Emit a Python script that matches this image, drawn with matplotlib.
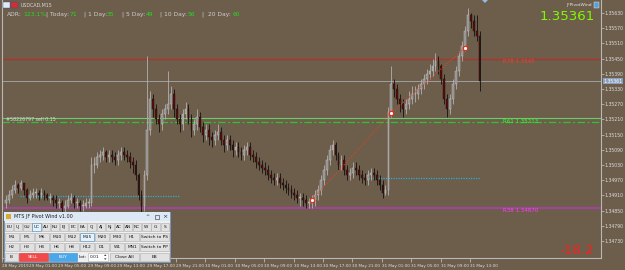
import matplotlib.pyplot as plt
from matplotlib.patches import Rectangle, Polygon
import matplotlib.transforms as mtransforms
import numpy as np

BG = '#6d5d4b'

# USDCAD M15 bars, values in pips above 1.3400
first_open = 88
closes = [
    89, 91, 93, 95, 94, 96, 93, 90, 91, 92,
    92, 91, 92, 91, 90, 90, 89, 88, 88, 86,
    87, 89, 90, 88, 88, 87, 87, 88, 88, 103,
    103, 106, 107, 108, 106, 107, 106, 105, 107, 108,
    107, 106, 104, 103, 99, 91, 87, 99, 117, 129,
    125, 121, 119, 123, 125, 127, 131, 125, 121, 119,
    123, 125, 121, 117, 119, 122, 118, 115, 117, 114,
    113, 115, 116, 113, 111, 113, 111, 109, 110, 108,
    107, 109, 110, 107, 106, 104, 103, 102, 101, 99,
    98, 97, 98, 96, 95, 94, 93, 92, 91, 90,
    90, 89, 88, 88, 89, 91, 93, 97, 101, 105,
    109, 111, 107, 103, 105, 101, 99, 100, 102, 101,
    99, 98, 97, 99, 100, 99, 97, 95, 92, 93,
    124, 135, 133, 129, 127, 125, 127, 129, 131, 131,
    133, 135, 137, 139, 140, 142, 144, 142, 137, 129,
    125, 129, 135, 140, 146, 150, 156, 162, 160, 156,
    154, 136,
]
highs = [
    91, 93, 95, 97, 96, 97, 96, 94, 93, 94,
    94, 93, 94, 93, 92, 92, 91, 91, 90, 89,
    89, 91, 92, 91, 90, 89, 89, 90, 90, 106,
    106, 108, 109, 110, 109, 109, 109, 108, 109, 110,
    110, 109, 108, 106, 105, 100, 93, 101, 146, 132,
    131, 127, 123, 125, 127, 140, 134, 133, 127, 123,
    125, 128, 127, 123, 121, 125, 124, 120, 119, 119,
    116, 117, 119, 118, 115, 115, 115, 113, 112, 112,
    110, 111, 112, 112, 109, 108, 106, 105, 104, 103,
    101, 100, 100, 100, 98, 97, 96, 95, 94, 93,
    92, 92, 91, 90, 91, 93, 95, 99, 103, 107,
    111, 113, 112, 108, 107, 107, 103, 102, 104, 104,
    103, 101, 100, 101, 102, 102, 101, 99, 97, 95,
    126, 142, 137, 135, 131, 129, 129, 132, 134, 134,
    135, 137, 139, 141, 143, 145, 147, 146, 143, 139,
    131, 131, 137, 142, 148, 152, 158, 165, 163, 162,
    162, 156,
]
lows = [
    86, 88, 90, 92, 92, 93, 91, 88, 89, 90,
    90, 89, 90, 89, 89, 88, 87, 86, 86, 84,
    84, 86, 88, 86, 86, 85, 85, 86, 86, 87,
    100, 102, 104, 105, 104, 104, 104, 103, 103, 105,
    105, 104, 102, 100, 97, 89, 84, 85, 97, 115,
    122, 119, 116, 117, 121, 123, 125, 122, 119, 116,
    117, 121, 119, 114, 115, 117, 116, 112, 113, 111,
    110, 111, 113, 111, 108, 109, 109, 106, 107, 106,
    105, 105, 107, 105, 104, 102, 101, 100, 99, 97,
    96, 95, 95, 94, 93, 92, 91, 90, 89, 88,
    87, 87, 86, 86, 86, 87, 89, 91, 95, 99,
    103, 107, 105, 101, 101, 99, 97, 97, 98, 99,
    97, 96, 95, 95, 97, 97, 95, 93, 90, 91,
    91, 122, 130, 127, 124, 122, 123, 125, 127, 128,
    129, 131, 133, 135, 137, 138, 140, 139, 135, 127,
    122, 123, 127, 133, 138, 144, 148, 154, 157, 154,
    152, 132,
]
base = 1.3400
pip = 0.0001

time_labels = ['28 May 2019', '29 May 01:00', '29 May 05:00', '29 May 09:00', '29 May 13:00',
               '29 May 17:00', '29 May 21:00', '30 May 01:00', '30 May 05:00', '30 May 09:00',
               '30 May 13:00', '30 May 17:00', '30 May 21:00', '31 May 01:00', '31 May 05:00',
               '31 May 09:00', '31 May 13:00']
label_bars = [-1.3] + [7.76 + 10 * k for k in range(16)]

price_ticks = [1.34730, 1.34790, 1.34850, 1.34910, 1.34970, 1.35030, 1.35090, 1.35150,
               1.35210, 1.35270, 1.35330, 1.35390, 1.35450, 1.35510, 1.35570, 1.35630]

bid = 1.35361
r78, r61, r38 = 1.3545, 1.35200, 1.34860
order_price = 1.35216
cyan_levels = [(1.34908, 4.7, 59.2), (1.34979, 123, 161)]
zz_bars = [104, 131, 156]
zz_prices = [1.34892, 1.35235, 1.35492]

adr_items = [('ADR:', 7, '123.1%', 23), ('| Today:', 46, '71', 70), ('| 1 Day:', 84, '35', 107),
             ('| 5 Day:', 122, '49', 146), ('| 10 Day:', 160, '56', 187), ('|  20 Day:', 202, '60', 233)]

# ---------------------------------------------------------------
fig = plt.figure(figsize=(6.25, 2.7), dpi=100, facecolor=BG)
ax = fig.add_axes([2 / 625, 12 / 270, 599 / 625, 258 / 270])
ax.set_facecolor(BG)

c = base + np.array(closes) * pip
o = np.r_[base + first_open * pip, c[:-1]]
h = base + np.array(highs) * pip
l = base + np.array(lows) * pip
idx = np.arange(len(c))
up = c >= o

ax.vlines(idx[up], l[up], h[up], color='#b0b0b0', lw=0.6, zorder=3)
ax.vlines(idx[~up], l[~up], h[~up], color='#111111', lw=0.6, zorder=3)
ax.bar(idx[up], np.maximum((c - o)[up], 0.2 * pip), bottom=o[up], width=0.6,
       color='#8a8a8a', edgecolor='#cfcfcf', lw=0.3, zorder=4)
ax.bar(idx[~up], (o - c)[~up], bottom=c[~up], width=0.6,
       color='#5e0c0c', edgecolor='#111111', lw=0.3, zorder=4)

# levels
ax.axhline(r78, color='#b3312c', lw=0.9, zorder=2)
ax.axhline(bid, color='#a0a0a0', lw=0.7, zorder=2)
ax.axhline(order_price, color='#66d066', lw=0.8, zorder=2)
ax.axhline(r61, color='#2fc42f', lw=0.9, ls=(0, (6, 2, 1.5, 2)), zorder=2)
ax.axhline(r38, color='#b43cb4', lw=1.1, zorder=2)
for p, x0, x1 in cyan_levels:
    ax.hlines(p, x0, x1, color='#2aaed6', lw=0.9, ls=(0, (1, 1)), zorder=2)

ax.plot(zz_bars, zz_prices, color='#e0452a', lw=0.8, ls=(0, (1, 1.5)), zorder=5)
ax.scatter(zz_bars, zz_prices, s=10, facecolor='white', edgecolor='#e0301c', lw=0.9, zorder=6)

ax.text(169, r78, 'R78 1.3545', color='#ff3a30', fontsize=4, va='top', zorder=6)
ax.text(169, r61, 'R61 1.35213', color='#30ff30', fontsize=4, va='center', zorder=6)
ax.text(169, r38, 'R38 1.34870', color='#ff40ff', fontsize=4, va='top', zorder=6)
ax.text(0, order_price - 0.5 * pip, '#58226797 sell 0.15', color='#dcdcdc', fontsize=3.4,
        va='center', zorder=6)

ax.set_xlim(-1.43, 202.3)
ax.set_ylim(1.34663, 1.35681)

ax.set_xticks(label_bars)
ax.set_xticklabels(time_labels)
offset = mtransforms.ScaledTranslation(1.2 / 100, 0, fig.dpi_scale_trans)
for t in ax.get_xticklabels():
    t.set_ha('left')
    t.set_transform(t.get_transform() + offset)
ax.tick_params(axis='x', direction='out', length=3, width=0.5, color='#c8c8c8',
               labelsize=2.95, labelcolor='#dedede', pad=1)

ax.yaxis.tick_right()
ax.set_yticks(price_ticks)
ax.set_yticklabels(['%.5f' % p for p in price_ticks])
ax.tick_params(axis='y', direction='out', length=2.2, width=0.5, color='#c8c8c8',
               labelsize=3.3, labelcolor='#dedede', pad=0.6)

for s in ['left', 'bottom', 'right']:
    ax.spines[s].set_color('#b8b8b8')
    ax.spines[s].set_linewidth(0.8)
ax.spines['top'].set_visible(False)

ax.text(1.004, bid, '%.5f' % bid, transform=ax.get_yaxis_transform(), fontsize=3.3,
        color='white', va='center', ha='left', clip_on=False,
        bbox=dict(facecolor='#8aa0bb', edgecolor='none', pad=0.6))

# ---------------------------------------------------------------
# overlay for the indicator texts and the EA panel (pixel coords)
ov = fig.add_axes([0, 0, 1, 1])
ov.set_xlim(0, 625)
ov.set_ylim(270, 0)
ov.axis('off')

ov.add_patch(Rectangle((3, 2), 6.5, 6, facecolor='#e8e8f0', edgecolor='#3050a0', lw=0.3))
ov.add_patch(Rectangle((11, 2), 6.5, 6, facecolor='#d03030', edgecolor='#3050a0', lw=0.3))
ov.text(21, 5, 'USDCAD,M15', fontsize=3.4, color='#d8d8d8', va='center')
for lab, lx, val, vx in adr_items:
    ov.text(lx, 14, lab, fontsize=4.3, color='#cfcfcf', va='center')
    ov.text(vx, 14, val, fontsize=4.3, color='#22dd22', va='center')

ov.text(595, 16, '1.35361', fontsize=9.6, color='#7cfc00', ha='right', va='center')
ov.text(592, 5, 'JFPivotWind', fontsize=3.2, color='#e8e8e8', ha='right', va='center')
ov.add_patch(Rectangle((594, 2), 5, 6, facecolor='#5aa0d8', edgecolor='#f0f0f0', lw=0.3))
ov.add_patch(Polygon([(482, 0), (488, 0), (485, 3)], facecolor='#8fbbe6', edgecolor='none'))
ov.text(594, 250, '-18.2', fontsize=9.6, color='#ff1e1e', ha='right', va='center')

# EA panel
ov.add_patch(Rectangle((4, 212), 166, 50, facecolor='#efefef', edgecolor='#6f93c2', lw=0.6))
ov.add_patch(Rectangle((4, 212), 166, 9, facecolor='#dce8f5', edgecolor='none'))
ov.add_patch(Rectangle((6, 214), 5, 5, facecolor='#d8a830', edgecolor='none'))
ov.text(14, 216.7, 'MTS JF Pivot Wind v1.00', fontsize=3.5, color='#202020', va='center')
ov.text(148, 216.7, '^', fontsize=3.5, color='#303030', va='center', ha='center')
ov.add_patch(Rectangle((155, 215), 4, 3.5, facecolor='none', edgecolor='#303030', lw=0.4))
ov.text(165, 216.7, '\u00d7', fontsize=4.5, color='#303030', va='center', ha='center')


def button(x, y, w, text, fc='#e1e1e1', ec='#adadad', tc='#111111', hh=8):
    ov.add_patch(Rectangle((x, y), w, hh, facecolor=fc, edgecolor=ec, lw=0.4))
    ov.text(x + w / 2, y + hh / 2 + 0.2, text, fontsize=3.2, color=tc, ha='center', va='center')


pairs = ['EU', 'UJ', 'GU', 'UC', 'AU', 'NU', 'EJ', 'EC', 'EA', 'CJ', 'AJ', 'NJ', 'AC', 'AN', 'NC',
         'W', 'G', 'S']
for j, p in enumerate(pairs):
    if p == 'UC':
        button(5 + 9.15 * j, 222.5, 8.3, p, fc='#e5f1fb', ec='#3c7fb1')
    else:
        button(5 + 9.15 * j, 222.5, 8.3, p)

row2 = ['M1', 'M5', 'M6', 'M10', 'M12', 'M15', 'M20', 'M30', 'H1']
row3 = ['H2', 'H3', 'H4', 'H6', 'H8', 'H12', 'D1', 'W1', 'MN1']
for j, (a, b) in enumerate(zip(row2, row3)):
    if a == 'M15':
        button(5 + 15 * j, 232.5, 14, a, fc='#e5f1fb', ec='#3c7fb1')
    else:
        button(5 + 15 * j, 232.5, 14, a)
    button(5 + 15 * j, 243, 14, b)
button(140, 232.5, 29, 'Switch to PS')
button(140, 243, 29, 'Switch to PP')

button(5, 253, 13, 'B')
button(19, 253, 28.5, 'SELL', fc='#f04a4a', ec='#d03030', tc='white')
button(48.5, 253, 28.5, 'BUY', fc='#4aa8ea', ec='#3a90d0', tc='white')
ov.text(78.5, 257.2, 'Lot:', fontsize=3.2, color='#111111', va='center')
ov.add_patch(Rectangle((88, 253), 20, 8, facecolor='white', edgecolor='#adadad', lw=0.4))
ov.text(90, 257.2, '0.01', fontsize=3.2, color='#111111', va='center')
ov.add_patch(Polygon([(104, 256), (106.5, 256), (105.25, 254.3)], facecolor='#404040'))
ov.add_patch(Polygon([(104, 258.3), (106.5, 258.3), (105.25, 260)], facecolor='#404040'))
button(110, 253, 28.5, 'Close All')
button(140, 253, 29, 'EB')

fig.savefig('out.png', dpi=100, facecolor=BG)
